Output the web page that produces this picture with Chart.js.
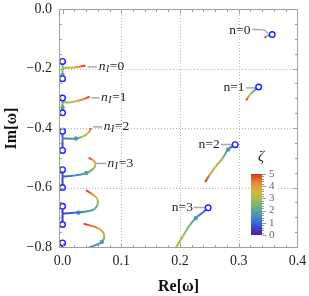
<!DOCTYPE html>
<html>
<head>
<meta charset="utf-8">
<script src="https://cdn.jsdelivr.net/npm/chart.js@4.4.1/dist/chart.umd.min.js"></script>
<style>
html, body { margin: 0; padding: 0; background: #fff; }
canvas { display: block; }
</style>
</head>
<body>
<canvas id="qnm" width="309" height="296"></canvas>
<script>
// each point: [Re ω, Im ω, ζ]
// overtones n (complex modes)
const n0Curve = [[0.357, -0.086, 0], [0.352, -0.088, 1.8], [0.348, -0.091, 3], [0.344, -0.097, 5]];
const n1Curve = [[0.334, -0.262, 0], [0.327, -0.273, 1.8], [0.320, -0.286, 3], [0.316, -0.297, 4], [0.313, -0.307, 5]];
const n2Curve = [[0.294, -0.456, 0], [0.282, -0.472, 1.8], [0.272, -0.503, 2.6], [0.260, -0.531, 3.3], [0.251, -0.556, 4.2], [0.243, -0.581, 5]];
const n3Curve = [[0.248, -0.668, 0], [0.240, -0.682, 1], [0.227, -0.702, 1.8], [0.216, -0.728, 2.4], [0.206, -0.760, 2.9], [0.192, -0.805, 3.3]];

// purely imaginary pairs n_I: two branches on the axis, then the complex branch
const nI0Upper = [[0, -0.176, 0], [0, -0.186, 2.2], [0, -0.198, 2.8]];
const nI0Lower = [[0, -0.234, 0], [0, -0.222, 2], [0, -0.198, 2.8]];
const nI0Branch = [[0, -0.198, 2.8], [0.016, -0.197, 3.6], [0.027, -0.195, 4.3], [0.039, -0.190, 5]];

const nI1Upper = [[0, -0.299, 0], [0, -0.313, 2.5]];
const nI1Lower = [[0, -0.349, 0], [0, -0.331, 2], [0, -0.313, 2.5]];
const nI1Branch = [[0, -0.313, 2.5], [0.012, -0.314, 3], [0.0235, -0.310, 3.6], [0.035, -0.303, 4.3], [0.046, -0.295, 5]];

const nI2Upper = [[0, -0.411, 0], [0, -0.435, 1.2]];
const nI2Lower = [[0, -0.475, 0], [0, -0.435, 1.2]];
const nI2Branch = [[0, -0.435, 1.2], [0.023, -0.435, 1.9], [0.034, -0.429, 2.7], [0.042, -0.419, 3.5], [0.047, -0.409, 4.2], [0.048, -0.400, 5]];

const nI3Upper = [[0, -0.540, 0], [0, -0.563, 0.8]];
const nI3Lower = [[0, -0.600, 0], [0, -0.563, 0.8]];
const nI3Branch = [[0, -0.563, 0.8], [0.022, -0.559, 1.3], [0.0405, -0.551, 2], [0.053, -0.536, 2.8], [0.056, -0.519, 3.5], [0.052, -0.508, 4.2], [0.0445, -0.500, 5]];

const nI4Upper = [[0, -0.663, 0], [0, -0.687, 0.5]];
const nI4Lower = [[0, -0.724, 0], [0, -0.687, 0.5]];
const nI4Branch = [[0, -0.687, 0.5], [0.027, -0.684, 1.2], [0.045, -0.679, 1.6], [0.055, -0.671, 2], [0.060, -0.654, 2.6], [0.059, -0.637, 3.3], [0.051, -0.623, 4.2], [0.040, -0.609, 5]];

const nI5Upper = [[0, -0.786, 0], [0, -0.812, 0.4]];
const nI5Branch = [[0.040, -0.806, 1], [0.055, -0.794, 1.6], [0.067, -0.783, 2], [0.071, -0.760, 3], [0.062, -0.738, 4], [0.036, -0.721, 5]];

// ζ = 0 starting points (open circles)
const startRe = [0.357, 0.334, 0.294, 0.248, 0, 0, 0, 0, 0, 0, 0, 0, 0, 0, 0];
const startIm = [-0.086, -0.262, -0.456, -0.668, -0.176, -0.234, -0.299, -0.349, -0.411, -0.475, -0.540, -0.600, -0.663, -0.724, -0.786];

// marked points (filled dots)
const dotRe = [0, 0, 0.023, 0.0405, 0.027, 0.067, 0.282, 0.227];
const dotIm = [-0.222, -0.331, -0.435, -0.551, -0.684, -0.783, -0.472, -0.702];
const dotZeta = [2, 2, 1.9, 2, 1.2, 2, 1.8, 1.8];

// callout labels
const nLabels = ['n=0', 'n=1', 'n=2', 'n=3'];
const nLabelX = [0.320, 0.310, 0.2676, 0.222];
const nLabelY = [-0.0713, -0.265, -0.4555, -0.667];
const nLines = [
  [[0.323, -0.069], [0.343, -0.071], [0.350, -0.082]],
  [[0.3126, -0.265], [0.3285, -0.265]],
  [[0.270, -0.4555], [0.2915, -0.4555]],
  [[0.2233, -0.667], [0.245, -0.667]]
];
const nILabels = ['0', '1', '2', '3'];
const nILabelX = [0.0615, 0.0656, 0.070, 0.0768];
const nILabelY = [-0.1946, -0.2988, -0.396, -0.519];
const nILines = [
  [[0.0427, -0.1946], [0.0588, -0.1946]],
  [[0.049, -0.2988], [0.0630, -0.2988]],
  [[0.052, -0.396], [0.0673, -0.396]],
  [[0.0559, -0.519], [0.0746, -0.519]]
];

const xTicks = [0, 0.1, 0.2, 0.3, 0.4];
const yTicks = [-0.8, -0.6, -0.4, -0.2, 0];
const zetaTicks = [0, 1, 2, 3, 4, 5];

const zStops = [
  [0, [90, 30, 142]], [0.5, [61, 63, 191]], [1, [62, 102, 214]], [1.5, [70, 141, 201]],
  [2, [85, 165, 157]], [2.5, [124, 182, 108]], [3, [168, 189, 76]], [3.5, [205, 185, 64]],
  [4, [225, 162, 56]], [4.5, [225, 116, 47]], [5, [217, 49, 41]]
];

function zColor(z) {
  z = Math.max(0, Math.min(5, z));
  for (let i = 1; i < zStops.length; i++) {
    if (z <= zStops[i][0]) {
      const [z0, c0] = zStops[i - 1], [z1, c1] = zStops[i];
      const t = (z - z0) / (z1 - z0);
      const c = c0.map((v, k) => Math.round(v + (c1[k] - v) * t));
      return 'rgb(' + c.join(',') + ')';
    }
  }
  return 'rgb(217,49,41)';
}

const curves = [n0Curve, n1Curve, n2Curve, n3Curve,
  nI0Upper, nI0Lower, nI0Branch, nI1Upper, nI1Lower, nI1Branch,
  nI2Upper, nI2Lower, nI2Branch, nI3Upper, nI3Lower, nI3Branch,
  nI4Upper, nI4Lower, nI4Branch, nI5Upper, nI5Branch];

function curveDataset(pts) {
  return {
    data: pts.map(p => ({ x: p[0], y: p[1] })),
    showLine: true,
    borderWidth: 2,
    pointRadius: 0,
    tension: 0.35,
    clip: 0,
    order: 3,
    segment: {
      borderColor: ctx => {
        const a = ctx.p0, b = ctx.p1;
        const g = ctx.chart.ctx.createLinearGradient(a.x, a.y, b.x + 0.01, b.y + 0.01);
        g.addColorStop(0, zColor(pts[ctx.p0DataIndex][2]));
        g.addColorStop(1, zColor(pts[ctx.p1DataIndex][2]));
        return g;
      }
    }
  };
}

const datasets = [];
datasets.push({
  data: startRe.map((x, i) => ({ x: x, y: startIm[i] })),
  pointRadius: 2.8, pointBorderWidth: 1.4,
  pointBorderColor: '#1b22f5', pointBackgroundColor: '#fff',
  showLine: false, clip: false, order: 0
});
datasets.push({
  data: dotRe.map((x, i) => ({ x: x, y: dotIm[i] })),
  pointRadius: 2.2, pointBorderWidth: 0,
  pointBackgroundColor: dotZeta.map(zColor),
  showLine: false, clip: false, order: 1
});
nLines.concat(nILines).forEach(l => datasets.push({
  data: l.map(p => ({ x: p[0], y: p[1] })),
  showLine: true, borderColor: '#a8a8a8', borderWidth: 1.5,
  pointRadius: 0, tension: 0.3, order: 2
}));
curves.forEach(c => datasets.push(curveDataset(c)));

const serif = '"Liberation Serif", "DejaVu Serif", serif';

const decor = {
  id: 'decor',
  beforeDatasetsDraw(chart) {
    const { ctx, chartArea: a, scales: { x, y } } = chart;
    ctx.save();
    ctx.strokeStyle = '#b4b4b4';
    ctx.lineWidth = 1;
    ctx.setLineDash([1, 2]);
    xTicks.slice(1, -1).forEach(v => {
      const p = Math.round(x.getPixelForValue(v)) + 0.5;
      ctx.beginPath(); ctx.moveTo(p, a.top); ctx.lineTo(p, a.bottom); ctx.stroke();
    });
    yTicks.slice(1, -1).forEach(v => {
      const p = Math.round(y.getPixelForValue(v)) + 0.5;
      ctx.beginPath(); ctx.moveTo(a.left, p); ctx.lineTo(a.right, p); ctx.stroke();
    });
    ctx.restore();
  },
  afterDatasetsDraw(chart) {
    const { ctx, chartArea: a, scales: { x, y } } = chart;
    ctx.save();
    // frame + inward ticks
    ctx.strokeStyle = '#a0a0a0';
    ctx.lineWidth = 1;
    ctx.strokeRect(Math.round(a.left) + 0.5, Math.round(a.top) + 0.5,
      Math.round(a.right - a.left) - 1, Math.round(a.bottom - a.top) - 1);
    ctx.beginPath();
    for (let v = 0; v <= 0.4001; v += 0.02) {
      const p = Math.round(x.getPixelForValue(v)) + 0.5;
      const len = Math.abs(v * 10 - Math.round(v * 10)) < 1e-6 ? 5 : 3;
      ctx.moveTo(p, a.bottom); ctx.lineTo(p, a.bottom - len);
      ctx.moveTo(p, a.top); ctx.lineTo(p, a.top + len);
    }
    for (let v = 0; v >= -0.8001; v -= 0.05) {
      const p = Math.round(y.getPixelForValue(v)) + 0.5;
      const len = Math.abs(v * 5 - Math.round(v * 5)) < 1e-6 ? 5 : 3;
      ctx.moveTo(a.left, p); ctx.lineTo(a.left + len, p);
      ctx.moveTo(a.right, p); ctx.lineTo(a.right - len, p);
    }
    ctx.stroke();

    // callout labels
    ctx.fillStyle = '#222';
    ctx.textBaseline = 'middle';
    ctx.font = '13.5px ' + serif;
    ctx.textAlign = 'right';
    nLabels.forEach((t, i) => ctx.fillText(t, x.getPixelForValue(nLabelX[i]), y.getPixelForValue(nLabelY[i])));
    ctx.textAlign = 'left';
    nILabels.forEach((t, i) => {
      let px = x.getPixelForValue(nILabelX[i]);
      const py = y.getPixelForValue(nILabelY[i]);
      ctx.font = 'italic 13.5px ' + serif;
      ctx.fillText('n', px, py);
      px += ctx.measureText('n').width + 0.5;
      ctx.font = 'italic 9.5px ' + serif;
      ctx.fillText('I', px, py + 3);
      px += ctx.measureText('I').width + 0.8;
      ctx.font = '13.5px ' + serif;
      ctx.fillText('=' + t, px, py);
    });

    // colorbar legend
    const bx = 251, bw = 11, top = 174, bot = 235;
    ctx.fillStyle = '#fff';
    ctx.fillRect(bx, top - 4, 27, bot - top + 8);
    const g = ctx.createLinearGradient(0, bot, 0, top);
    zStops.forEach(s => g.addColorStop(s[0] / 5, zColor(s[0])));
    ctx.fillStyle = g;
    ctx.fillRect(bx, top, bw, bot - top);
    ctx.strokeStyle = '#999';
    ctx.beginPath();
    for (let k = 0; k <= 25; k++) {
      const py = Math.round(bot - (bot - top) * k / 25) + 0.5;
      const len = k % 5 === 0 ? 4 : 2;
      ctx.moveTo(bx + bw, py); ctx.lineTo(bx + bw + len, py);
    }
    ctx.stroke();
    ctx.fillStyle = '#666';
    ctx.font = '11px ' + serif;
    ctx.textAlign = 'left';
    zetaTicks.forEach(v => ctx.fillText(String(v), bx + bw + 7, bot - (bot - top) * v / 5));
    ctx.fillStyle = '#222';
    ctx.font = 'italic 15px ' + serif;
    ctx.textAlign = 'center';
    ctx.fillText('ζ', 261, 157);

    // axis titles
    ctx.font = 'bold 16px ' + serif;
    ctx.fillStyle = '#111';
    ctx.fillText('Re[ω]', (a.left + a.right) / 2, 287);
    ctx.translate(12, (a.top + a.bottom) / 2);
    ctx.rotate(-Math.PI / 2);
    ctx.fillText('Im[ω]', 0, 0);
    ctx.restore();
  }
};

new Chart(document.getElementById('qnm'), {
  type: 'scatter',
  data: { datasets: datasets },
  options: {
    responsive: false,
    animation: false,
    devicePixelRatio: 1,
    layout: { padding: { top: 9, right: 11, left: 0, bottom: 0 } },
    plugins: { legend: { display: false }, tooltip: { enabled: false } },
    scales: {
      x: {
        type: 'linear', min: -0.006, max: 0.401,
        afterFit: s => { s.height = 48; s.paddingLeft = 0; s.paddingRight = 0; },
        afterBuildTicks: s => { s.ticks = xTicks.map(v => ({ value: v })); },
        grid: { display: false, drawTicks: false },
        border: { display: false },
        ticks: {
          padding: 5, color: '#222', font: { family: serif, size: 14 },
          callback: v => v.toFixed(1)
        }
      },
      y: {
        type: 'linear', min: -0.803, max: 0,
        afterFit: s => { s.width = 59; s.paddingTop = 0; s.paddingBottom = 0; },
        afterBuildTicks: s => { s.ticks = yTicks.map(v => ({ value: v })); },
        grid: { display: false, drawTicks: false },
        border: { display: false },
        ticks: {
          padding: 7, color: '#222', font: { family: serif, size: 14 },
          callback: v => (v === 0 ? '0.0' : '\u2212' + Math.abs(v).toFixed(1))
        }
      }
    }
  },
  plugins: [decor]
});
</script>
</body>
</html>
